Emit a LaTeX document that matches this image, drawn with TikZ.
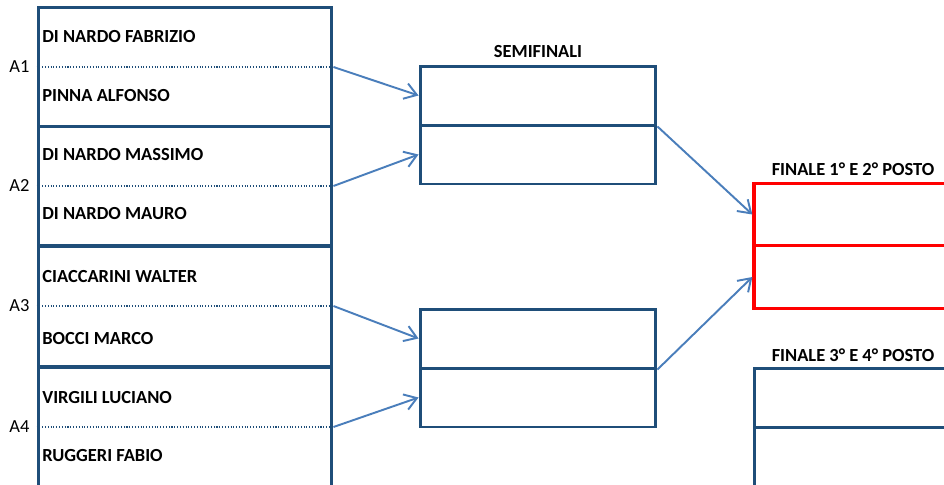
\documentclass[tikz,border=0pt]{standalone}
\usepackage{fontspec}
\setmainfont{Carlito}
\usetikzlibrary{arrows.meta}
\definecolor{boxblue}{RGB}{31,78,121}
\definecolor{linkblue}{RGB}{74,126,187}

\begin{document}
\begin{tikzpicture}[x=0.02cm,y=-0.02cm,
  every node/.style={font=\fontsize{10.5}{12}\selectfont},
  quarter/.style={draw=boxblue,line width=1.7pt,minimum width=5.88cm,minimum height=2.4cm,inner sep=0pt},
  semi/.style={draw=boxblue,line width=1.7pt,minimum width=4.72cm,minimum height=1.18cm,inner sep=0pt},
  final/.style={draw=red,line width=1.9pt,minimum width=5.12cm,minimum height=1.25cm,inner sep=0pt},
  bronze/.style={draw=boxblue,line width=1.7pt,minimum width=5.12cm,minimum height=1.18cm,inner sep=0pt},
  player/.style={anchor=west,font=\fontsize{10.5}{12}\selectfont\bfseries,inner sep=0pt},
  title/.style={font=\fontsize{10.5}{12}\selectfont\bfseries,inner sep=0pt},
  dotline/.style={boxblue,densely dotted,line width=0.6pt},
  link/.style={linkblue,line width=1.1pt,-{Straight Barb[length=2.4mm,width=3.2mm]}}]

\clip (0,0) rectangle (944,484);

% quarti
\node[quarter] (q1) at (185,67) {};
\node[quarter] (q2) at (185,186) {};
\node[quarter] (q3) at (185,306) {};
\node[quarter] (q4) at (185,427) {};
\draw[dotline] (q1.west) -- (q1.east);
\draw[dotline] (q2.west) -- (q2.east);
\draw[dotline] (q3.west) -- (q3.east);
\draw[dotline] (q4.west) -- (q4.east);

\node[anchor=west,inner sep=0pt] (a1) at (9,67) {A1};
\node[anchor=west,inner sep=0pt] (a2) at (9,186) {A2};
\node[anchor=west,inner sep=0pt] (a3) at (9,306) {A3};
\node[anchor=west,inner sep=0pt] (a4) at (9,427) {A4};

\node[player] (p1) at (42,37) {DI NARDO FABRIZIO};
\node[player] (p2) at (42,96) {PINNA ALFONSO};
\node[player] (p3) at (42,155) {DI NARDO MASSIMO};
\node[player] (p4) at (42,214) {DI NARDO MAURO};
\node[player] (p5) at (42,277) {CIACCARINI WALTER};
\node[player] (p6) at (42,339) {BOCCI MARCO};
\node[player] (p7) at (42,398) {VIRGILI LUCIANO};
\node[player] (p8) at (42,456) {RUGGERI FABIO};

% semifinali
\node[title] (semititle) at (538,52) {SEMIFINALI};
\node[semi] (s1a) at (538,95.5) {};
\node[semi] (s1b) at (538,154.5) {};
\node[semi] (s2a) at (538,338.5) {};
\node[semi] (s2b) at (538,397.5) {};

% finali
\node[title] (finaltitle) at (853,169) {FINALE 1° E 2° POSTO};
\node[final] (f1a) at (882,214.5) {};
\node[final] (f1b) at (882,277) {};
\node[title] (bronzetitle) at (853,355) {FINALE 3° E 4° POSTO};
\node[bronze] (f2a) at (882,398) {};
\node[bronze] (f2b) at (882,457) {};

\draw[link] (q1.east) -- (s1a.west);
\draw[link] (q2.east) -- (s1b.west);
\draw[link] (q3.east) -- (s2a.west);
\draw[link] (q4.east) -- (s2b.west);
\draw[link] (s1a.south east) -- (f1a.west);
\draw[link] (s2a.south east) -- (f1b.west);
\end{tikzpicture}
\end{document}
